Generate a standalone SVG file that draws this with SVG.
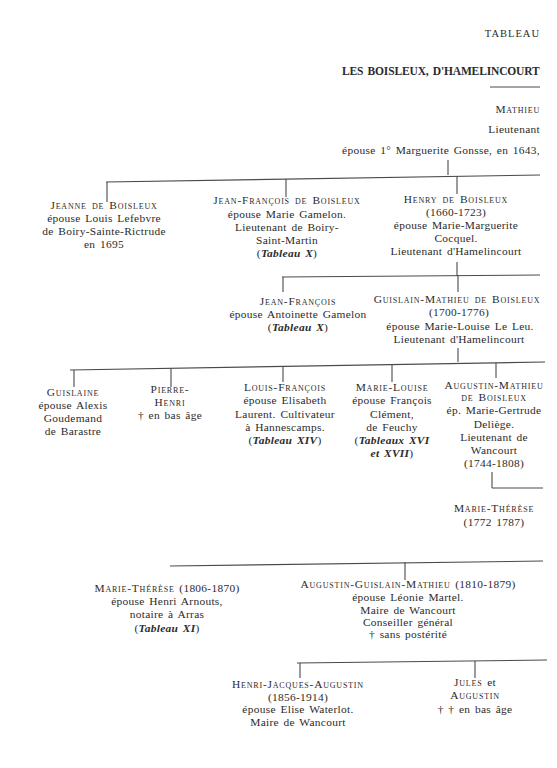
<svg xmlns="http://www.w3.org/2000/svg" width="557" height="768" viewBox="0 0 557 768">
<style>
text{font-family:"Liberation Serif","Times New Roman",serif;font-size:11.4px;fill:#2b2b2b;letter-spacing:0.3px;word-spacing:1.5px;text-anchor:middle}
.sc{font-variant:small-caps;letter-spacing:0.8px}
.it{font-style:italic;font-weight:bold}
.r{text-anchor:end}
.conn line{stroke:#4a4a4a;stroke-width:1.1;fill:none}
</style>
<rect width="557" height="768" fill="#ffffff"/>
<g id="header">
<text class="r" x="540" y="37" style="font-size:10.5px;letter-spacing:1px">TABLEAU</text>
<text x="342" y="75" style="text-anchor:start;font-weight:bold;font-size:11.5px" textLength="198" lengthAdjust="spacing">LES BOISLEUX, D'HAMELINCOURT</text>
<line x1="490" y1="87" x2="540" y2="87" stroke="#4a4a4a" stroke-width="1"/>
</g>
<g class="conn" id="connectors">
<line x1="448" y1="160" x2="448" y2="175"/>
<line x1="106" y1="182" x2="540" y2="175"/>
<line x1="107" y1="182" x2="107" y2="202"/>
<line x1="286" y1="179" x2="286" y2="197"/>
<line x1="457" y1="176" x2="457" y2="194"/>
<line x1="457" y1="262" x2="457" y2="276"/>
<line x1="282" y1="277" x2="540" y2="275"/>
<line x1="283" y1="277" x2="283" y2="292"/>
<line x1="458" y1="275" x2="458" y2="292"/>
<line x1="458" y1="348" x2="458" y2="362"/>
<line x1="70" y1="370" x2="545" y2="362"/>
<line x1="74" y1="370" x2="74" y2="387"/>
<line x1="171" y1="368" x2="171" y2="387"/>
<line x1="283" y1="366" x2="283" y2="382"/>
<line x1="392" y1="365" x2="392" y2="382"/>
<line x1="496" y1="363" x2="496" y2="378"/>
<line x1="492" y1="472" x2="492" y2="488"/>
<line x1="492" y1="488" x2="543" y2="488"/>
<line x1="170" y1="566" x2="543" y2="561"/>
<line x1="405" y1="562" x2="405" y2="580"/>
<line x1="297" y1="663" x2="547" y2="660"/>
<line x1="300" y1="663" x2="300" y2="678"/>
<line x1="475" y1="661" x2="475" y2="678"/>
</g>
<g id="mathieu">
<text class="r sc" x="540" y="113">Mathieu</text>
<text class="r" x="540" y="133">Lieutenant</text>
<text class="r" x="540" y="154">épouse 1° Marguerite Gonsse, en 1643,</text>
</g>
<g id="jeanne">
<text class="sc" x="104" y="209">Jeanne de Boisleux</text>
<text x="104" y="222">épouse Louis Lefebvre</text>
<text x="104" y="235">de Boiry-Sainte-Rictrude</text>
<text x="104" y="248">en 1695</text>
</g>
<g id="jean-francois">
<text class="sc" x="287" y="204">Jean-François de Boisleux</text>
<text x="287" y="218">épouse Marie Gamelon.</text>
<text x="287" y="231">Lieutenant de Boiry-</text>
<text x="287" y="244">Saint-Martin</text>
<text x="287" y="257">(<tspan class="it">Tableau X</tspan>)</text>
</g>
<g id="henry">
<text class="sc" x="456" y="203">Henry de Boisleux</text>
<text x="456" y="216">(1660-1723)</text>
<text x="456" y="229">épouse Marie-Marguerite</text>
<text x="456" y="242">Cocquel.</text>
<text x="456" y="255">Lieutenant d'Hamelincourt</text>
</g>
<g id="jean-francois-2">
<text class="sc" x="298" y="305">Jean-François</text>
<text x="298" y="318">épouse Antoinette Gamelon</text>
<text x="298" y="331">(<tspan class="it">Tableau X</tspan>)</text>
</g>
<g id="guislain-mathieu">
<text class="sc" x="457" y="303">Guislain-Mathieu de Boisleux</text>
<text x="459" y="316">(1700-1776)</text>
<text x="460" y="330">épouse Marie-Louise Le Leu.</text>
<text x="459" y="343">Lieutenant d'Hamelincourt</text>
</g>
<g id="guislaine">
<text class="sc" x="73" y="396">Guislaine</text>
<text x="73" y="409">épouse Alexis</text>
<text x="73" y="422">Goudemand</text>
<text x="73" y="435">de Barastre</text>
</g>
<g id="pierre-henri">
<text class="sc" x="170" y="393">Pierre-</text>
<text class="sc" x="170" y="406">Henri</text>
<text x="170" y="419">† en bas âge</text>
</g>
<g id="louis-francois">
<text class="sc" x="285" y="391">Louis-François</text>
<text x="285" y="404">épouse Elisabeth</text>
<text x="285" y="418">Laurent. Cultivateur</text>
<text x="285" y="431">à Hannescamps.</text>
<text x="285" y="444">(<tspan class="it">Tableau XIV</tspan>)</text>
</g>
<g id="marie-louise">
<text class="sc" x="392" y="391">Marie-Louise</text>
<text x="392" y="404">épouse François</text>
<text x="392" y="418">Clément,</text>
<text x="392" y="431">de Feuchy</text>
<text x="392" y="444">(<tspan class="it">Tableaux XVI</tspan></text>
<text x="392" y="457"><tspan class="it">et XVII</tspan>)</text>
</g>
<g id="augustin-mathieu">
<text class="sc" x="494" y="389">Augustin-Mathieu</text>
<text class="sc" x="494" y="401">de Boisleux</text>
<text x="494" y="414">ép. Marie-Gertrude</text>
<text x="494" y="428">Deliège.</text>
<text x="494" y="441">Lieutenant de</text>
<text x="494" y="454">Wancourt</text>
<text x="494" y="467">(1744-1808)</text>
</g>
<g id="marie-therese-1772">
<text class="sc" x="494" y="512">Marie-Thérèse</text>
<text x="494" y="526">(1772 1787)</text>
</g>
<g id="marie-therese-1806">
<text x="167" y="592"><tspan class="sc">Marie-Thérèse</tspan> (1806-1870)</text>
<text x="167" y="605">épouse Henri Arnouts,</text>
<text x="167" y="618">notaire à Arras</text>
<text x="167" y="632">(<tspan class="it">Tableau XI</tspan>)</text>
</g>
<g id="augustin-guislain-mathieu">
<text x="408" y="588"><tspan class="sc">Augustin-Guislain-Mathieu</tspan> (1810-1879)</text>
<text x="408" y="601">épouse Léonie Martel.</text>
<text x="408" y="614">Maire de Wancourt</text>
<text x="408" y="626">Conseiller général</text>
<text x="408" y="638">† sans postérité</text>
</g>
<g id="henri-jacques-augustin">
<text class="sc" x="298" y="688">Henri-Jacques-Augustin</text>
<text x="298" y="701">(1856-1914)</text>
<text x="298" y="713">épouse Elise Waterlot.</text>
<text x="298" y="726">Maire de Wancourt</text>
</g>
<g id="jules-augustin">
<text x="475" y="686"><tspan class="sc">Jules</tspan> et</text>
<text class="sc" x="475" y="699">Augustin</text>
<text x="475" y="713">† † en bas âge</text>
</g>
</svg>
